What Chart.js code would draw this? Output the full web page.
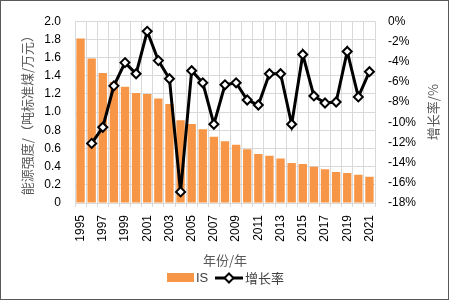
<!DOCTYPE html>
<html>
<head>
<meta charset="utf-8">
<script src="https://cdn.jsdelivr.net/npm/chart.js@4.4.0/dist/chart.umd.min.js"></script>
<style>
  html, body { margin: 0; padding: 0; background: #fff; }
</style>
</head>
<body>
<canvas id="chart" width="450" height="301"></canvas>
<script>
// data
const years = ['1995','1996','1997','1998','1999','2000','2001','2002','2003','2004',
  '2005','2006','2007','2008','2009','2010','2011','2012','2013','2014',
  '2015','2016','2017','2018','2019','2020','2021'];
const intensity = [1.81, 1.59, 1.43, 1.33, 1.28, 1.21, 1.20, 1.15, 1.09, 0.91,
  0.87, 0.81, 0.73, 0.68, 0.64, 0.59, 0.54, 0.52, 0.49, 0.44,
  0.43, 0.40, 0.37, 0.34, 0.33, 0.31, 0.29];
const growth = [null, -12.1, -10.5, -6.4, -4.1, -5.2, -1.0, -3.9, -5.7, -16.9,
  -4.9, -6.1, -10.2, -6.3, -6.1, -7.8, -8.3, -5.2, -5.2, -10.2,
  -3.3, -7.4, -8.1, -8.0, -3.0, -7.5, -5.0];

const FONT = "'Liberation Sans', 'Noto Sans CJK SC', sans-serif";
const CJK = "'Noto Sans CJK SC', 'Liberation Sans', sans-serif";

// right title (reads bottom to top), legend and outer frame
const extras = {
  id: 'extras',
  afterDraw(chart) {
    const ctx = chart.ctx;
    const area = chart.chartArea;

    ctx.save();
    ctx.fillStyle = '#595959';
    ctx.font = '13px ' + CJK;
    ctx.translate(433, (area.top + area.bottom) / 2);
    ctx.rotate(-Math.PI / 2);
    ctx.textAlign = 'center';
    ctx.textBaseline = 'middle';
    ctx.fillText('增长率/%', 0, 0);
    ctx.restore();

    // legend
    ctx.save();
    const ly = 278;
    ctx.fillStyle = '#F79646';
    ctx.fillRect(167, 273, 27, 9);
    ctx.fillStyle = '#404040';
    ctx.font = '13px ' + FONT;
    ctx.textAlign = 'left';
    ctx.textBaseline = 'middle';
    ctx.fillText('IS', 196, ly);

    ctx.strokeStyle = '#000';
    ctx.lineWidth = 3;
    ctx.beginPath();
    ctx.moveTo(215, ly);
    ctx.lineTo(243, ly);
    ctx.stroke();
    ctx.beginPath();
    ctx.moveTo(229, ly - 4.5);
    ctx.lineTo(233.5, ly);
    ctx.lineTo(229, ly + 4.5);
    ctx.lineTo(224.5, ly);
    ctx.closePath();
    ctx.fillStyle = '#fff';
    ctx.fill();
    ctx.lineWidth = 2;
    ctx.stroke();

    ctx.fillStyle = '#404040';
    ctx.font = '13px ' + CJK;
    ctx.fillText('增长率', 245, ly);

    ctx.strokeStyle = '#595959';
    ctx.lineWidth = 1;
    ctx.strokeRect(0.5, 0.5, 448, 299);
    ctx.restore();
  }
};

new Chart(document.getElementById('chart'), {
  data: {
    labels: years,
    datasets: [
      {
        type: 'line',
        label: '增长率',
        data: growth,
        yAxisID: 'y1',
        borderColor: '#000',
        borderWidth: 3,
        pointStyle: 'rectRot',
        pointRadius: 4.5,
        pointBorderWidth: 2,
        pointBackgroundColor: '#fff',
        pointBorderColor: '#000',
        tension: 0,
        order: 1
      },
      {
        type: 'bar',
        label: 'IS',
        data: intensity,
        yAxisID: 'y',
        backgroundColor: '#F79646',
        barPercentage: 0.75,
        categoryPercentage: 1.0,
        order: 2
      }
    ]
  },
  options: {
    responsive: false,
    animation: false,
    layout: { padding: { top: 13, left: 0, right: 0, bottom: 0 } },
    plugins: {
      legend: { display: false },
      tooltip: { enabled: false }
    },
    scales: {
      x: {
        grid: { color: '#d9d9d9', offset: true, tickLength: 4 },
        border: { color: '#d9d9d9' },
        ticks: {
          autoSkip: false,
          minRotation: 90,
          maxRotation: 90,
          padding: 8,
          color: '#000',
          font: { size: 12, family: FONT },
          callback: function (v, i) { return i % 2 === 0 ? this.getLabelForValue(v) : ''; }
        },
        title: {
          display: true,
          text: '年份/年',
          color: '#595959',
          font: { size: 13, family: CJK },
          padding: { top: 0, bottom: 33 }
        },
        afterFit(s) { s.height = 98; }
      },
      y: {
        position: 'left',
        min: 0,
        max: 2,
        ticks: { stepSize: 0.2, padding: 14, color: '#000', font: { size: 12, family: FONT } },
        grid: { color: '#d9d9d9', drawTicks: false },
        border: { display: false },
        title: {
          display: true,
          text: '能源强度/（吨标准煤/万元）',
          color: '#595959',
          font: { size: 13, family: CJK },
          padding: { top: 19, bottom: 0 }
        },
        afterFit(s) { s.width = 75; }
      },
      y1: {
        position: 'right',
        min: -18,
        max: 0,
        ticks: {
          stepSize: 2,
          padding: 13,
          color: '#000',
          font: { size: 12, family: FONT },
          callback: v => v + '%'
        },
        grid: { drawOnChartArea: false, drawTicks: false },
        border: { display: false },
        afterFit(s) { s.width = 75; }
      }
    }
  },
  plugins: [extras]
});
</script>
</body>
</html>
